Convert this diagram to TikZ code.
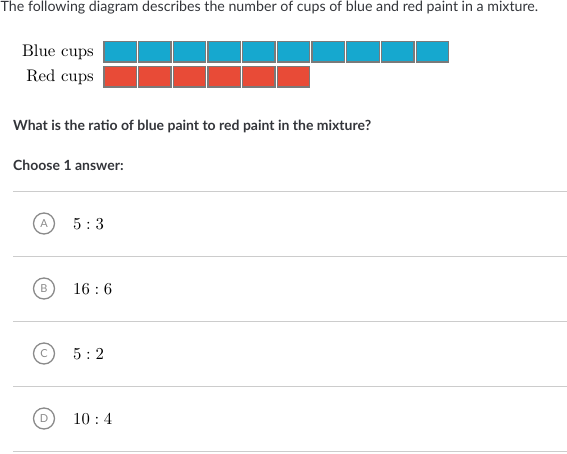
\documentclass[tikz,border=0pt]{standalone}
\usepackage{fontspec}
\newfontfamily\lato{Lato}
\newfontfamily\lmten[Extension=.otf]{lmroman10-regular}
\definecolor{txt}{HTML}{33353A}
\definecolor{cupblue}{HTML}{16A8CF}
\definecolor{cupred}{HTML}{E84B37}
\definecolor{cupedge}{HTML}{7A7A7A}
\definecolor{rule}{HTML}{CCCCCC}
\definecolor{circ}{HTML}{8A8A8A}
\newcommand{\rsp}{\hspace{0.28em}}
\tikzset{
  cell/.style={draw=cupedge, line width=1.3pt, minimum width=32.4pt, minimum height=20.6pt, inner sep=0pt, anchor=north west},
  bluecell/.style={cell, fill=cupblue},
  redcell/.style={cell, fill=cupred},
  rowlabel/.style={anchor=base east, inner sep=0pt, font=\lmten\fontsize{16.8}{18}\selectfont},
  qtext/.style={anchor=base west, inner sep=0pt, text=txt, font=\lato\bfseries\fontsize{14}{16}\selectfont},
  sep/.style={draw=rule, line width=0.9pt},
  choice/.style={circle, draw=circ, line width=1.3pt, minimum size=21pt, inner sep=0pt, text=circ, font=\lato\fontsize{11}{12}\selectfont},
  ans/.style={anchor=base west, inner sep=0pt, font=\lmten\fontsize{16.7}{18}\selectfont}
}
\begin{document}
\begin{tikzpicture}[x=1pt,y=-1pt]
\useasboundingbox (0,0) rectangle (567,453);
\node[anchor=base west, inner sep=0pt, text=txt, font=\lato\fontsize{14.2}{16}\selectfont] (title) at (0.5,11) {The following diagram describes the number of cups of blue and red paint in a mixture.};
\node[rowlabel] (bl) at (94,56.5) {Blue cups};
\node[rowlabel] (rl) at (94,81.5) {Red cups};
\foreach \i in {0,...,9} {
  \node[bluecell] (b\i) at ({103.2+\i*34.7},40.6) {};
}
\foreach \i in {0,...,5} {
  \node[redcell] (r\i) at ({103.2+\i*34.7},65.6) {};
}
\node[qtext] (q) at (13,130) {What is the ratio of blue paint to red paint in the mixture?};
\node[qtext] (ch) at (13,170) {Choose 1 answer:};
\foreach \k/\y in {0/191,1/256,2/321,3/386,4/451} {
  \coordinate (ls\k) at (13,\y);
  \coordinate (le\k) at (567,\y);
  \draw[sep] (ls\k) -- (le\k);
}
\node[choice] (ca) at (44,223.5) {A};
\node[choice] (cb) at (44,288.5) {B};
\node[choice] (cc) at (44,353.5) {C};
\node[choice] (cd) at (44,418.5) {D};
\node[ans] (aa) at (73,229) {5\rsp:\rsp3};
\node[ans] (ab) at (73,294) {16\rsp:\rsp6};
\node[ans] (ac) at (73,359) {5\rsp:\rsp2};
\node[ans] (ad) at (73,424) {10\rsp:\rsp4};
\end{tikzpicture}
\end{document}
